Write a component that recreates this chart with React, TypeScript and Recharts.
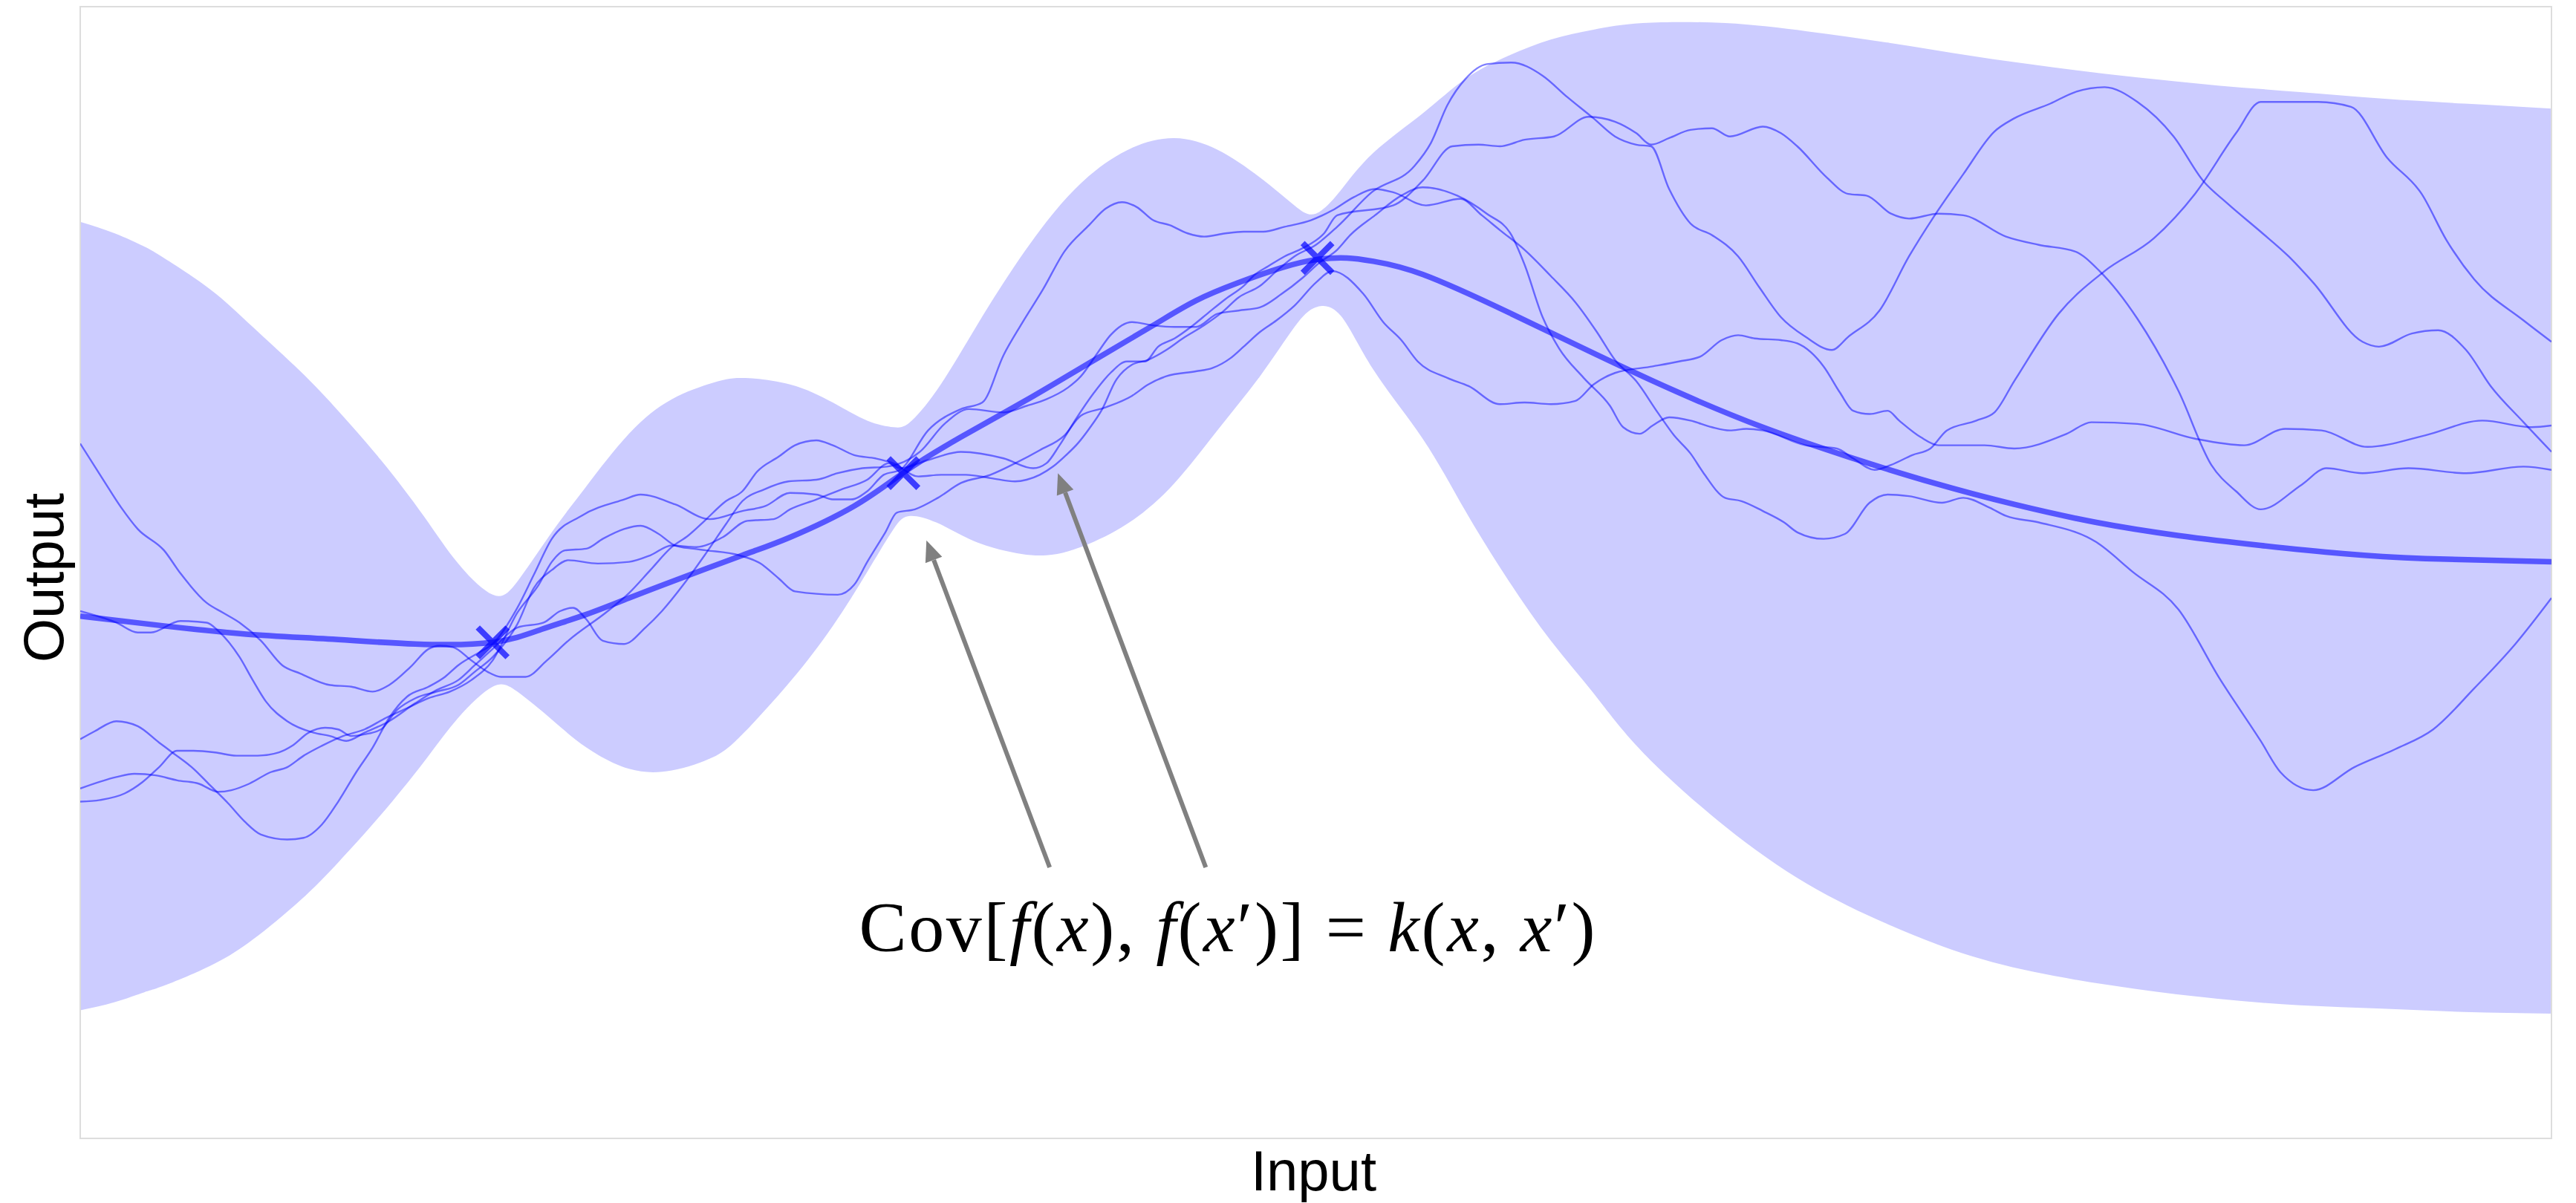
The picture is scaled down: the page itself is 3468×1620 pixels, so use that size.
import {
  ComposedChart,
  Area,
  Line,
  Scatter,
  XAxis,
  YAxis,
  Label,
  ReferenceLine,
  ReferenceDot,
  ReferenceArea,
} from "recharts"

// posterior band (x, upper, lower)
const bandX = [0.0, 2.1, 3.9, 5.1, 7.9, 10.5, 13.4, 15.7, 18.3, 20.9, 23.0, 25.1, 26.6, 28.7, 30.8, 33.4, 36.0, 38.5, 40.3, 43.2, 45.8, 47.9, 49.5, 50.5, 52.1, 54.1, 56.2, 58.8, 61.4, 64.0, 66.6, 69.2, 71.8, 73.9, 75.2, 76.7, 78.7, 81.7, 84.3, 86.9, 89.5, 92.1, 95.1, 100.1, 105.1, 110.1, 115.1, 120.1, 125.1, 130.1, 135.1, 140.1, 145.1, 150.4]
const bandUpper = [55.8, 55.1, 54.3, 53.6, 51.7, 49.4, 46.7, 44.3, 41.3, 37.9, 35.0, 33.1, 33.9, 36.9, 39.7, 42.9, 45.0, 46.0, 46.3, 45.9, 44.8, 43.7, 43.3, 43.6, 45.5, 48.7, 52.1, 55.8, 58.6, 60.3, 60.9, 60.2, 58.5, 56.8, 56.3, 57.7, 60.0, 62.4, 64.5, 65.9, 66.9, 67.5, 67.9, 67.9, 67.4, 66.7, 65.9, 65.2, 64.6, 64.1, 63.7, 63.3, 63.0, 62.7]
const bandLower = [7.8, 8.3, 8.9, 9.3, 10.5, 12.1, 14.5, 16.8, 19.7, 22.9, 25.6, 27.5, 27.2, 25.5, 23.8, 22.5, 22.4, 23.2, 24.6, 27.8, 31.2, 34.5, 37.1, 37.9, 37.5, 36.5, 35.8, 35.5, 36.2, 37.6, 39.9, 43.1, 46.4, 49.4, 50.6, 50.1, 46.8, 42.6, 38.2, 34.0, 30.3, 27.1, 23.5, 19.0, 15.5, 13.0, 11.1, 9.9, 9.1, 8.5, 8.1, 7.9, 7.7, 7.6]

// posterior mean
const meanX = [0.0, 5.1, 10.1, 15.1, 20.4, 25.1, 28.1, 30.8, 33.4, 36.0, 40.3, 43.2, 47.1, 50.2, 53.6, 57.5, 61.4, 65.3, 67.9, 70.5, 73.1, 75.2, 77.1, 78.7, 81.7, 86.9, 92.1, 97.3, 102.4, 107.6, 112.8, 117.7, 122.7, 127.7, 132.7, 137.7, 142.7, 150.4]
const meanY = [31.8, 31.2, 30.7, 30.4, 30.1, 30.2, 31.0, 31.9, 32.9, 33.9, 35.5, 36.6, 38.5, 40.6, 42.7, 44.9, 47.2, 49.5, 51.0, 52.1, 53.0, 53.5, 53.6, 53.4, 52.6, 50.3, 47.8, 45.4, 43.3, 41.5, 39.9, 38.6, 37.5, 36.7, 36.1, 35.6, 35.3, 35.1]

// observations
const obsX = [25.1, 50.1, 75.3]
const obsY = [30.2, 40.5, 53.6]

// posterior samples, [x, y]
const sample1: [number, number][] = [
  [0.0, 42.3], [1.4, 40.1], [2.5, 38.4], [3.5, 37.1], [5.1, 35.8], [6.1, 34.4], [7.7, 32.6], [8.7, 32.0], [9.7, 31.4], [11.0, 30.3],
  [12.3, 28.8], [13.4, 28.3], [15.2, 27.6], [16.5, 27.5], [17.8, 27.2], [18.8, 27.6], [20.1, 28.7], [21.2, 29.8], [21.9, 30.0], [22.7, 29.9],
  [23.8, 29.1], [24.8, 28.4], [25.6, 28.1], [27.1, 28.1], [28.4, 29.1], [29.7, 30.3], [32.1, 32.1], [33.4, 33.2], [34.7, 34.6], [36.0, 36.0],
  [37.0, 36.7], [38.0, 37.6], [39.3, 38.8], [40.3, 39.4], [41.2, 40.6], [42.5, 41.5], [43.5, 42.2], [44.8, 42.5], [45.8, 42.2], [47.1, 41.6],
  [48.4, 41.4], [49.5, 41.1], [51.0, 40.3], [52.4, 40.4], [53.9, 40.4], [55.4, 40.2], [56.9, 40.0], [57.6, 40.1], [58.4, 40.4], [59.2, 40.9],
  [60.0, 41.6], [60.7, 42.3], [61.4, 43.2], [62.2, 44.4], [63.0, 46.1], [64.0, 47.1], [65.0, 47.4], [66.1, 48.0], [67.1, 48.7], [68.4, 49.5],
  [69.5, 50.3], [70.5, 51.2], [71.8, 51.9], [72.8, 52.8], [73.9, 53.7], [75.2, 54.4], [76.5, 55.5], [78.6, 57.6], [81.2, 59.2], [82.2, 60.6],
  [83.2, 62.9], [84.3, 64.5], [85.6, 65.4], [87.1, 65.5], [89.0, 64.7], [90.5, 63.4], [92.1, 62.1], [93.4, 61.0], [94.7, 60.5], [95.6, 60.4],
  [96.7, 57.8], [98.0, 55.7], [99.3, 55.0], [100.9, 53.7], [102.2, 51.8], [103.5, 50.0], [105.0, 48.8], [106.6, 48.0], [107.6, 48.8], [109.5, 50.4],
  [111.3, 53.7], [112.8, 56.1], [114.6, 58.7], [116.5, 61.3], [117.7, 62.1], [119.9, 63.0], [121.4, 63.7], [123.2, 64.0], [125.2, 63.1], [127.4, 61.0],
  [129.2, 58.3], [130.7, 56.9], [132.7, 55.2], [134.4, 53.7], [135.9, 52.1], [138.9, 48.5], [139.9, 48.2], [141.9, 49.0], [143.5, 49.2], [145.2, 48.0],
  [146.7, 45.8], [148.7, 43.6], [150.4, 41.8],
]
const sample2: [number, number][] = [
  [0.0, 32.1], [2.2, 31.4], [3.5, 30.8], [4.3, 30.8], [6.1, 31.5], [7.7, 31.4], [8.4, 30.9], [9.7, 29.3], [10.5, 27.9], [11.3, 26.6],
  [12.6, 25.4], [14.2, 24.7], [15.2, 24.5], [16.2, 24.2], [17.3, 24.7], [18.8, 25.4], [20.4, 26.5], [21.7, 27.3], [23.0, 27.9], [24.0, 28.8],
  [25.1, 29.8], [26.6, 31.1], [28.2, 31.4], [29.2, 32.1], [30.0, 32.3], [30.8, 31.6], [31.8, 30.3], [33.1, 30.1], [34.4, 31.1], [35.4, 32.1],
  [36.7, 33.7], [38.0, 35.5], [39.3, 37.4], [40.3, 38.8], [41.6, 39.5], [43.1, 40.0], [44.8, 40.1], [46.1, 40.5], [47.6, 40.8], [49.1, 40.9],
  [51.1, 41.8], [52.6, 43.5], [54.1, 44.4], [56.2, 44.2], [57.6, 44.6], [58.8, 45.0], [60.1, 45.7], [60.9, 46.4], [61.9, 47.8], [62.7, 48.9],
  [64.0, 49.7], [65.3, 49.5], [66.6, 49.4], [67.9, 49.4], [69.2, 50.2], [70.5, 50.4], [71.8, 50.6], [73.1, 51.4], [74.4, 52.4], [75.4, 53.3],
  [76.5, 54.1], [77.3, 55.0], [78.8, 56.2], [80.4, 57.4], [81.7, 57.9], [83.8, 57.4], [85.6, 56.3], [87.1, 55.0], [87.9, 53.2], [89.0, 50.0],
  [90.0, 48.1], [91.5, 46.3], [93.1, 44.6], [93.9, 43.3], [94.9, 42.9], [95.7, 43.4], [96.7, 43.9], [98.0, 43.7], [99.3, 43.3], [100.4, 43.1],
  [101.4, 43.2], [102.4, 43.1], [105.0, 42.2], [106.9, 42.0], [107.9, 41.4], [109.2, 40.7], [110.2, 41.0], [111.5, 41.6], [112.6, 42.0], [113.6, 43.1],
  [115.4, 43.7], [116.5, 44.2], [117.7, 46.1], [120.4, 50.2], [123.2, 52.8], [126.2, 54.8], [128.7, 57.5], [131.2, 61.2], [132.7, 63.1], [136.2, 63.1],
  [138.2, 62.8], [140.4, 59.7], [142.5, 57.5], [144.0, 54.7], [145.7, 52.3], [148.7, 49.8], [150.4, 48.5],
]
const sample3: [number, number][] = [
  [0.0, 24.3], [0.9, 24.8], [2.2, 25.4], [3.5, 25.1], [4.8, 24.1], [5.6, 23.5], [6.9, 22.5], [7.9, 21.5], [9.0, 20.4], [10.0, 19.3],
  [11.0, 18.5], [12.6, 18.2], [13.6, 18.3], [14.7, 19.1], [15.7, 20.5], [16.8, 22.3], [17.8, 23.8], [18.8, 25.6], [19.9, 26.9], [21.2, 27.5],
  [22.2, 28.1], [23.0, 28.8], [24.3, 29.6], [25.1, 30.1], [26.6, 32.3], [27.6, 34.3], [28.7, 36.5], [30.5, 37.9], [33.1, 38.9], [34.1, 39.2],
  [36.2, 38.6], [38.3, 37.7], [40.3, 38.2], [41.7, 38.5], [43.2, 39.3], [44.8, 39.2], [45.8, 38.9], [46.9, 38.9], [47.9, 39.4], [48.9, 40.4],
  [49.9, 40.7], [51.6, 43.1], [53.6, 44.4], [54.9, 44.8], [56.2, 47.7], [57.3, 49.6], [58.6, 51.7], [59.9, 54.0], [61.4, 55.6], [62.4, 56.6],
  [63.4, 57.0], [64.3, 56.7], [65.3, 55.9], [66.3, 55.6], [67.4, 55.1], [68.4, 54.9], [69.7, 55.1], [70.8, 55.2], [72.0, 55.2], [73.3, 55.5],
  [74.9, 55.9], [76.2, 56.5], [77.5, 57.3], [78.8, 57.8], [79.9, 57.6], [81.9, 56.8], [84.0, 57.2], [85.3, 56.2], [86.4, 55.3], [87.9, 54.1],
  [89.5, 52.5], [91.0, 50.9], [92.3, 49.1], [93.4, 47.4], [94.7, 46.1], [96.0, 44.2], [97.0, 42.8], [98.0, 41.7], [98.8, 40.5], [100.1, 39.0],
  [101.1, 38.8], [102.4, 38.2], [103.7, 37.5], [104.5, 36.9], [106.1, 36.5], [107.4, 36.8], [108.9, 38.7], [110.0, 39.2], [111.3, 39.1], [113.3, 38.7],
  [114.6, 39.0], [116.2, 38.4], [117.2, 37.9], [119.2, 37.5], [122.7, 36.3], [124.9, 34.5], [127.7, 32.2], [130.2, 28.0], [132.7, 24.2], [133.9, 22.3],
  [135.9, 21.2], [138.4, 22.6], [140.9, 23.7], [143.2, 24.9], [145.7, 27.4], [148.2, 30.1], [150.4, 32.9],
]
const sample4: [number, number][] = [
  [0.0, 21.3], [2.2, 22.0], [3.3, 22.2], [4.6, 22.1], [5.9, 21.8], [7.2, 21.6], [8.4, 21.1], [9.2, 21.2], [10.3, 21.6], [11.6, 22.3],
  [12.6, 22.6], [13.6, 23.3], [14.7, 23.9], [16.0, 24.5], [17.3, 24.9], [18.6, 25.6], [19.9, 26.2], [21.2, 26.8], [22.5, 27.2], [23.8, 27.9],
  [25.1, 29.1], [26.6, 32.0], [27.9, 33.7], [28.7, 35.1], [29.5, 35.8], [30.8, 35.9], [31.8, 36.5], [33.1, 37.1], [34.1, 37.3], [35.2, 36.8],
  [36.2, 36.1], [37.3, 35.9], [38.1, 35.8], [40.1, 35.5], [41.4, 35.0], [42.5, 34.1], [43.5, 33.3], [46.1, 33.1], [47.1, 33.7], [47.9, 35.1],
  [49.0, 36.9], [49.7, 38.1], [50.8, 38.3], [52.2, 39.0], [53.6, 39.9], [55.4, 40.4], [56.9, 41.1], [58.4, 41.9], [59.9, 42.8], [60.9, 44.0],
  [62.4, 44.5], [64.0, 45.2], [65.0, 45.9], [66.1, 46.4], [67.9, 46.7], [68.9, 46.9], [70.0, 47.5], [70.8, 48.2], [71.8, 49.1], [72.8, 49.8],
  [73.9, 50.7], [75.2, 52.1], [76.2, 52.8], [78.1, 51.4], [79.3, 49.7], [80.4, 48.6], [81.4, 47.3], [83.2, 46.3], [84.5, 45.8], [86.4, 44.7],
  [87.9, 44.8], [89.5, 44.7], [91.0, 44.9], [92.1, 45.9], [93.4, 46.6], [95.7, 47.0], [97.3, 47.3], [98.6, 47.6], [99.9, 48.6], [100.9, 48.9],
  [101.9, 48.7], [103.5, 48.6], [104.5, 48.4], [106.1, 47.0], [107.1, 45.4], [107.9, 44.3], [108.9, 44.1], [110.0, 44.3], [110.7, 43.7], [112.0, 42.7],
  [113.1, 42.2], [114.9, 42.2], [115.9, 42.2], [117.7, 42.0], [120.9, 42.9], [122.4, 43.6], [125.2, 43.5], [128.7, 42.6], [131.7, 42.2], [134.2, 43.2],
  [136.4, 43.1], [139.2, 42.1], [142.7, 42.8], [146.2, 43.7], [149.2, 43.3], [150.4, 43.4],
]
const sample5: [number, number][] = [
  [0.0, 20.5], [1.2, 20.6], [2.7, 21.0], [3.8, 21.7], [4.8, 22.6], [5.9, 23.6], [6.9, 23.6], [8.2, 23.5], [9.5, 23.3], [10.8, 23.3],
  [12.1, 23.5], [12.9, 23.9], [13.9, 24.7], [14.9, 25.0], [15.7, 24.9], [16.5, 24.5], [17.3, 24.6], [18.3, 24.9], [19.3, 26.1], [20.4, 26.8],
  [21.7, 27.2], [23.0, 27.6], [24.0, 28.4], [25.1, 29.3], [26.6, 31.3], [27.6, 33.5], [28.7, 34.6], [29.7, 35.2], [31.5, 35.0], [33.4, 35.1],
  [34.7, 35.5], [36.0, 36.1], [37.5, 36.0], [39.1, 36.6], [40.6, 37.6], [42.2, 37.7], [43.2, 38.3], [44.8, 38.9], [46.3, 39.5], [47.9, 40.1],
  [49.2, 41.1], [49.9, 40.8], [51.6, 41.3], [53.6, 41.8], [56.2, 41.4], [58.0, 40.8], [58.8, 41.1], [59.6, 42.2], [60.6, 43.8], [61.7, 45.4],
  [62.7, 46.6], [63.7, 47.3], [64.8, 47.3], [65.6, 48.2], [66.6, 48.7], [67.6, 49.4], [68.7, 50.3], [69.7, 51.1], [70.8, 51.9], [71.5, 52.6],
  [72.3, 53.1], [73.3, 53.7], [74.4, 54.2], [75.7, 55.1], [76.5, 56.2], [79.9, 56.8], [81.7, 58.3], [83.5, 60.4], [85.1, 60.5], [86.4, 60.4],
  [87.9, 60.8], [89.7, 61.0], [91.8, 62.2], [93.4, 61.9], [94.7, 61.2], [95.6, 60.5], [96.7, 60.9], [98.0, 61.4], [99.3, 61.5], [100.4, 61.0],
  [102.4, 61.6], [103.5, 61.2], [104.5, 60.4], [106.3, 58.5], [107.6, 57.5], [108.7, 57.4], [110.2, 56.3], [111.3, 56.0], [113.1, 56.3], [114.6, 56.2],
  [117.2, 54.9], [119.2, 54.4], [121.4, 54.0], [122.9, 52.8], [125.2, 49.9], [127.7, 45.5], [129.7, 41.0], [131.2, 39.4], [132.7, 38.3], [135.2, 39.8],
  [136.7, 40.8], [138.9, 40.5], [141.7, 40.8], [145.2, 40.5], [148.7, 40.9], [150.4, 40.7],
]
const samples = [sample1, sample2, sample3, sample4, sample5]

// annotation arrows: tail -> tip
const arrows = [
  { from: { x: 59.0, y: 16.5 }, to: { x: 51.5, y: 36.4 } },
  { from: { x: 68.5, y: 16.5 }, to: { x: 59.5, y: 40.5 } },
]
const eqAnchor = { x: 47.4, y: 11.4 }

const bandData = bandX.map((x, i) => ({ x, range: [bandLower[i], bandUpper[i]] }))
const meanData = meanX.map((x, i) => ({ x, y: meanY[i] }))
const obsData = obsX.map((x, i) => ({ x, y: obsY[i] }))
const sampleData = samples.map((s) => s.map(([x, y]) => ({ x, y })))

const BLUE = "#0000ff"
const GREY = "#808080"

const Cross = (props: any) => {
  const { cx, cy } = props
  const r = 20
  return (
    <path
      d={`M${cx - r},${cy - r}L${cx + r},${cy + r}M${cx - r},${cy + r}L${cx + r},${cy - r}`}
      stroke={BLUE}
      strokeOpacity={0.7}
      strokeWidth={8}
      fill="none"
    />
  )
}

const Arrow = (props: any) => {
  const { x1, y1, x2, y2 } = props
  const dx = x2 - x1
  const dy = y2 - y1
  const len = Math.hypot(dx, dy) || 1
  const ux = dx / len
  const uy = dy / len
  const head = 28
  const half = 12
  const bx = x2 - ux * head
  const by = y2 - uy * head
  return (
    <g>
      <line x1={x1} y1={y1} x2={bx} y2={by} stroke={GREY} strokeWidth={6} />
      <polygon
        points={`${x2},${y2} ${bx - uy * half},${by + ux * half} ${bx + uy * half},${by - ux * half}`}
        fill={GREY}
      />
    </g>
  )
}

const Equation = (props: any) => {
  const { cx, cy } = props
  const it = { fontStyle: "italic" as const }
  return (
    <text
      x={cx}
      y={cy}
      fontFamily="'Liberation Serif', 'Times New Roman', serif"
      fontSize={96}
      fill="#000"
      textLength={991}
      lengthAdjust="spacing"
    >
      <tspan>Cov[</tspan>
      <tspan {...it}>f</tspan>
      <tspan>(</tspan>
      <tspan {...it}>x</tspan>
      <tspan>), </tspan>
      <tspan {...it}>f</tspan>
      <tspan>(</tspan>
      <tspan {...it}>x</tspan>
      <tspan>′)] = </tspan>
      <tspan {...it}>k</tspan>
      <tspan>(</tspan>
      <tspan {...it}>x</tspan>
      <tspan>, </tspan>
      <tspan {...it}>x</tspan>
      <tspan>′)</tspan>
    </text>
  )
}

const sansFont = "'Liberation Sans', Arial, sans-serif"

const XLabel = (props: any) => {
  const vb = props.viewBox
  return (
    <text x={vb.x + vb.width / 2 - 3} y={vb.y + 70} textAnchor="middle" fontFamily={sansFont} fontSize={76} fill="#000">
      Input
    </text>
  )
}

const YLabel = (props: any) => {
  const vb = props.viewBox
  return (
    <text
      transform={`translate(${vb.x + 85}, ${vb.y + vb.height / 2 + 7}) rotate(-90)`}
      textAnchor="middle"
      fontFamily={sansFont}
      fontSize={76}
      fill="#000"
    >
      Output
    </text>
  )
}

export default function App() {
  return (
    <div style={{ position: "absolute", left: 0, top: 0, background: "#fff" }}>
      <ComposedChart width={3468} height={1620} margin={{ top: 9, right: 33, bottom: 0, left: 0 }}>
        <XAxis
          type="number"
          dataKey="x"
          domain={[0, 150.4]}
          allowDataOverflow
          tick={false}
          tickLine={false}
          axisLine={false}
          height={87}
        >
          <Label content={XLabel} />
        </XAxis>
        <YAxis
          type="number"
          dataKey="y"
          domain={[0, 68.9]}
          allowDataOverflow
          tick={false}
          tickLine={false}
          axisLine={false}
          width={108}
        >
          <Label content={YLabel} />
        </YAxis>
        <Area
          data={bandData}
          dataKey="range"
          type="natural"
          fill="#ccccff"
          fillOpacity={1}
          stroke="none"
          isAnimationActive={false}
          activeDot={false}
        />
        {sampleData.map((d, i) => (
          <Line
            key={i}
            data={d}
            dataKey="y"
            type="monotone"
            stroke={BLUE}
            strokeOpacity={0.5}
            strokeWidth={2.4}
            dot={false}
            activeDot={false}
            isAnimationActive={false}
          />
        ))}
        <Line
          data={meanData}
          dataKey="y"
          type="natural"
          stroke={BLUE}
          strokeOpacity={0.58}
          strokeWidth={7.5}
          dot={false}
          activeDot={false}
          isAnimationActive={false}
        />
        <Scatter data={obsData} dataKey="y" shape={Cross} isAnimationActive={false} />
        <ReferenceArea
          x1={0}
          x2={150.4}
          y1={0}
          y2={68.9}
          fill="none"
          stroke="#dddddd"
          strokeWidth={2}
          ifOverflow="visible"
        />
        {arrows.map((a, i) => (
          <ReferenceLine key={i} segment={[a.from, a.to]} shape={Arrow} ifOverflow="visible" />
        ))}
        <ReferenceDot x={eqAnchor.x} y={eqAnchor.y} shape={Equation} ifOverflow="visible" />
      </ComposedChart>
    </div>
  )
}
